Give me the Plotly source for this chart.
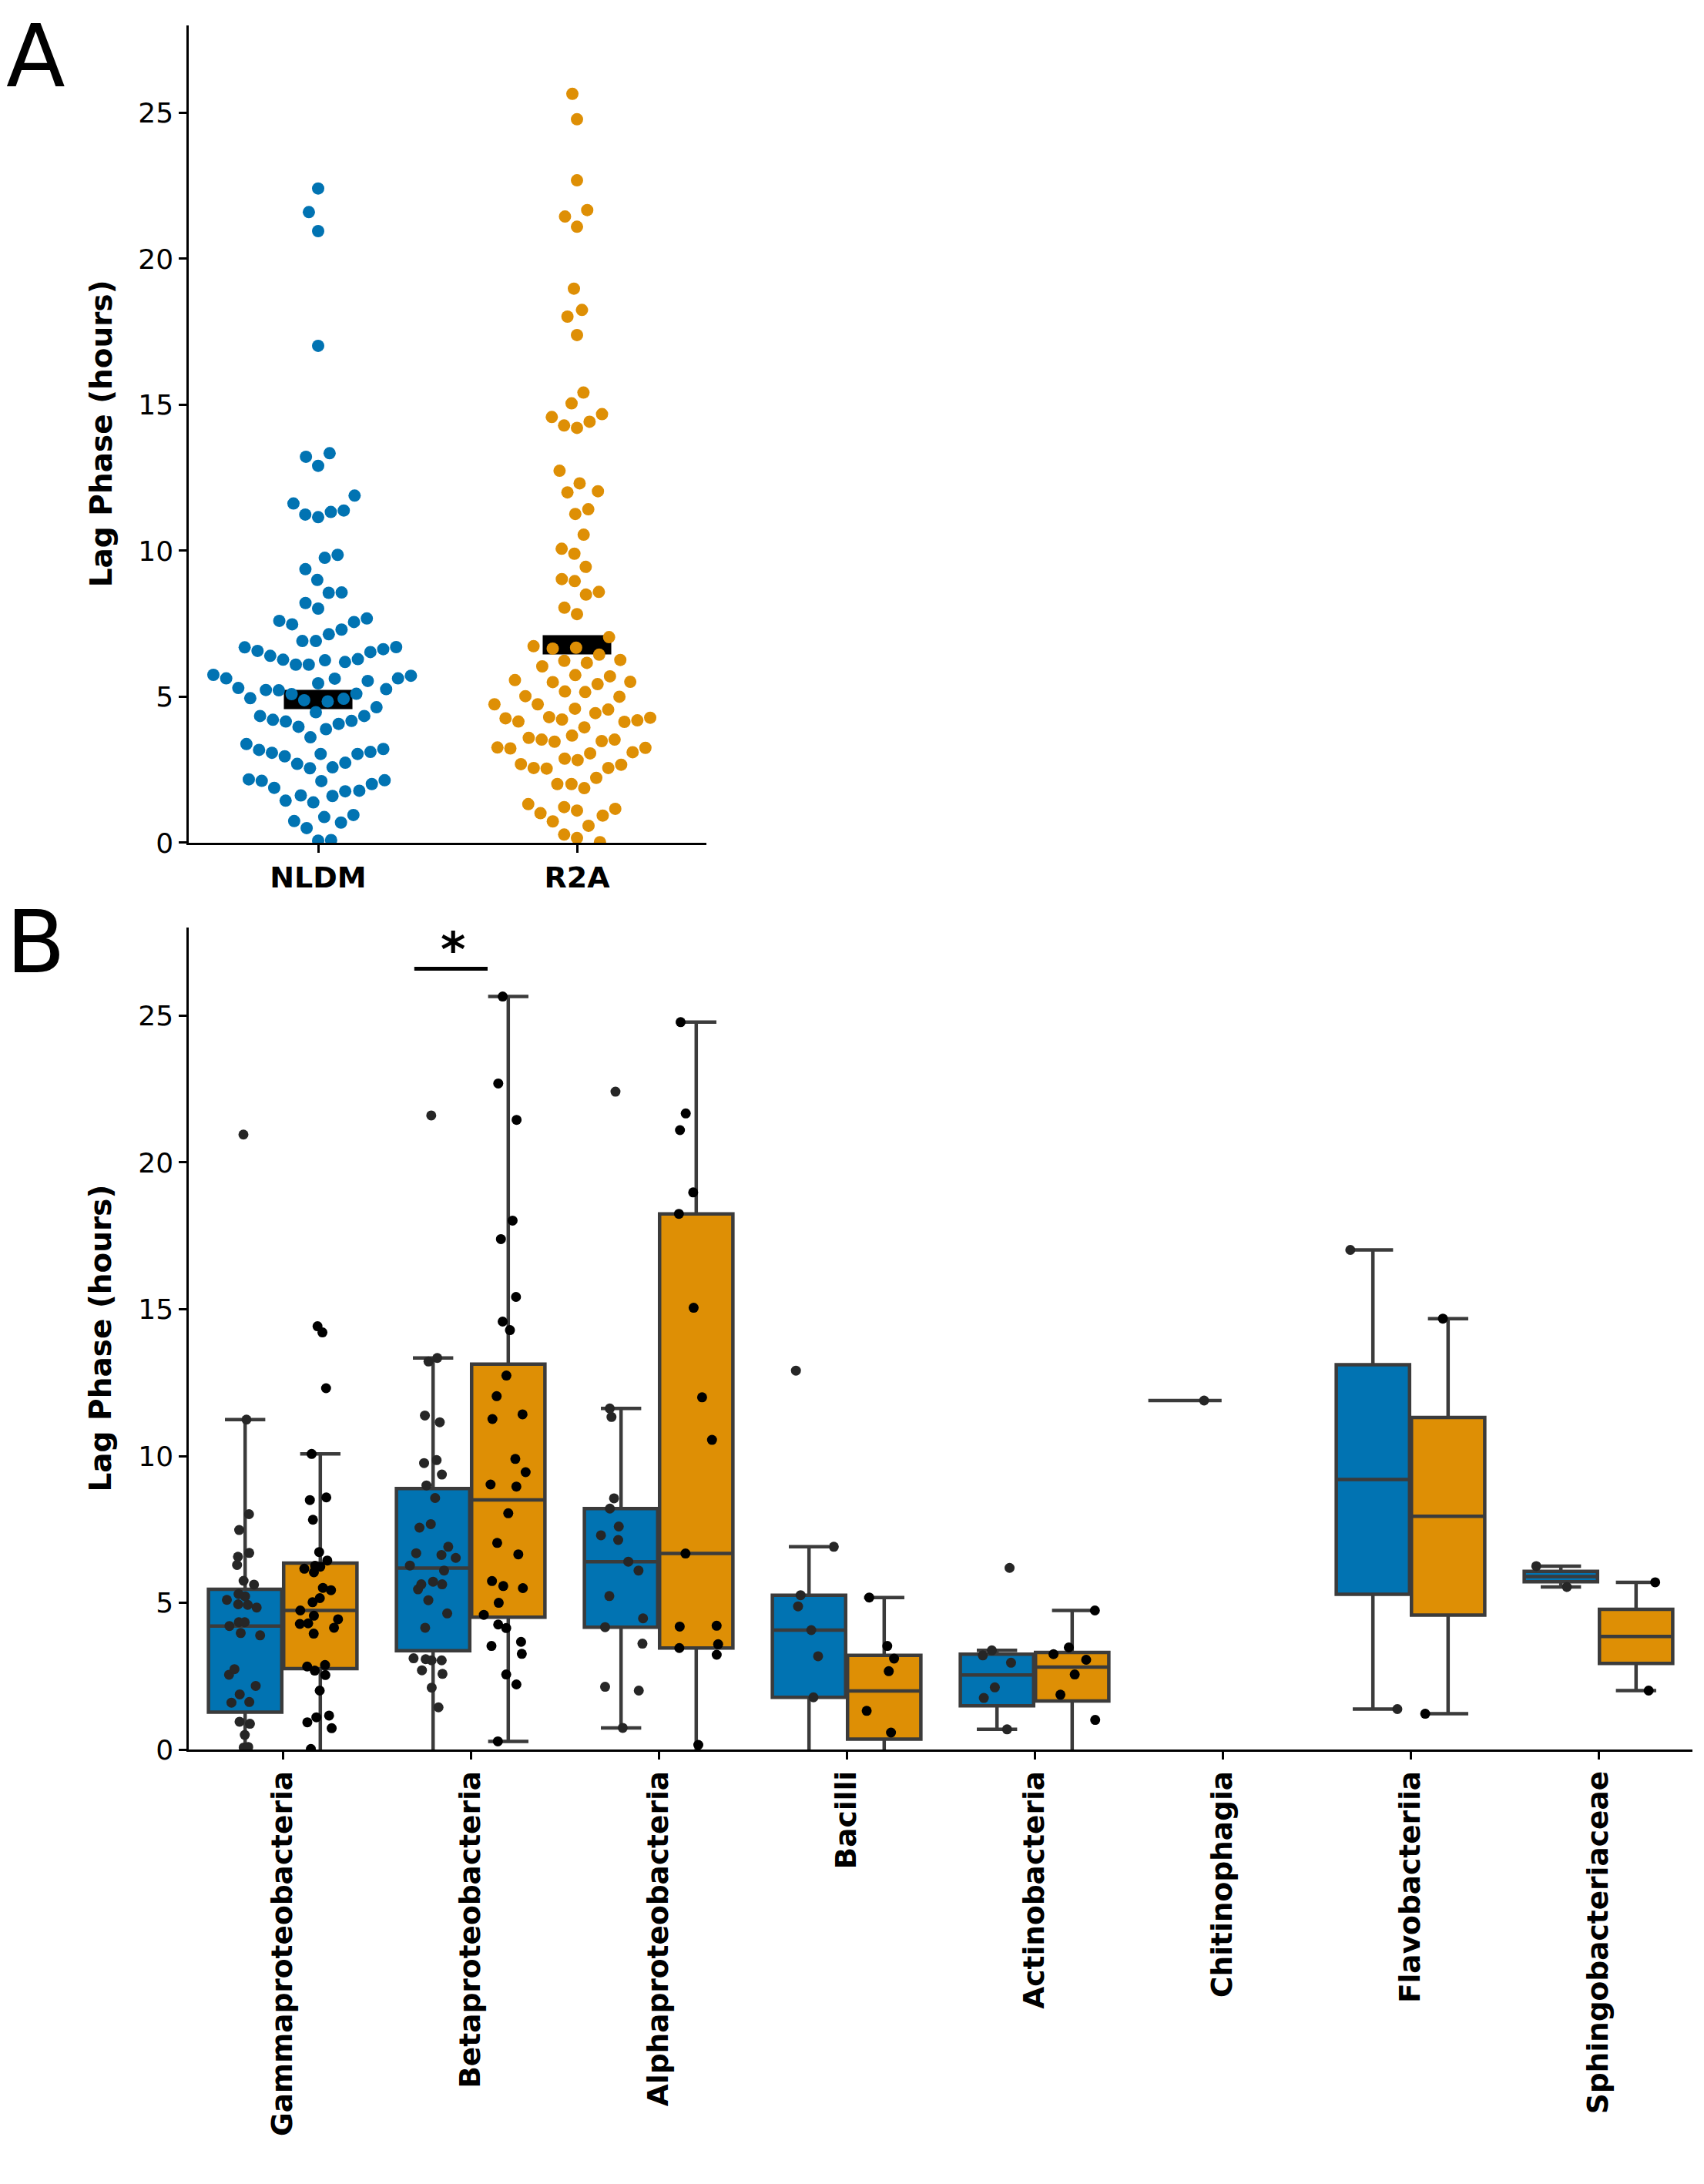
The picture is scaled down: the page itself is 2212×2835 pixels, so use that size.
import numpy as np
import plotly.graph_objects as go

# ---------------- data ----------------
classes = ["Gammaproteobacteria", "Betaproteobacteria", "Alphaproteobacteria", "Bacilli",
           "Actinobacteria", "Chitinophagia", "Flavobacteriia", "Sphingobacteriaceae"]
media = ["NLDM", "R2A"]

gamma_nldm = [20.95, 11.24, 8.02, 7.48, 6.70, 6.57, 6.29, 5.75, 5.62, 5.30, 5.22, 5.10, 4.95, 4.93,
              4.84, 4.34, 4.34, 4.21, 3.97, 3.89, 2.74, 2.55, 2.17, 1.88, 1.62, 1.60, 0.95, 0.88,
              0.50, 0.09, 0.07, -0.5, -1.2, -10.0, -25.0]
beta_nldm = [21.6, 13.34, 13.22, 11.38, 11.15, 9.86, 9.76, 9.37, 9.00, 8.57, 7.68, 7.56, 6.91, 6.69,
             6.63, 6.53, 6.27, 6.10, 5.72, 5.63, 5.63, 5.46, 5.09, 4.64, 4.15, 3.11, 3.08, 3.04,
             3.04, 2.70, 2.58, 2.11, 1.44, -2.0]
alpha_nldm = [22.41, 11.62, 11.33, 8.56, 8.21, 7.60, 7.30, 7.14, 6.40, 6.10, 5.23, 4.47, 4.17, 3.61,
              2.14, 2.01, 0.74]
bacilli_nldm = [12.91, 6.91, 5.26, 4.88, 4.07, 3.18, 1.78, -1.0, -15.0]
actino_nldm = [6.19, 3.38, 3.21, 2.96, 2.12, 1.76, 0.69, -10.0]
chitino_nldm = [11.89]
flavo_nldm = [17.02, 1.38]
sphingo_nldm = [6.25, 5.54]

gamma_r2a = [14.42, 14.21, 12.31, 10.07, 8.59, 8.50, 7.83, 6.73, 6.44, 6.26, 6.23, 6.16, 6.04, 5.51,
             5.43, 5.16, 5.02, 4.74, 4.56, 4.44, 4.30, 4.28, 4.15, 3.95, 2.88, 2.83, 2.69, 2.54,
             2.01, 1.16, 1.10, 0.93, 0.73, 0.02, -0.8]
beta_r2a = [25.65, 22.69, 21.45, 18.02, 17.39, 15.42, 14.58, 14.29, 12.74, 12.04, 11.42, 11.26, 9.90,
            9.45, 9.03, 8.96, 8.05, 7.04, 6.65, 5.74, 5.57, 5.50, 5.00, 4.59, 4.26, 4.14, 3.67, 3.53,
            3.26, 2.56, 2.22, 0.28]
alpha_r2a = [24.78, 21.67, 21.10, 18.98, 18.25, 15.05, 12.00, 10.55, 6.68, 4.22, 4.19, 3.59, 3.46,
             3.23, 0.16, -0.7, -4.0]
bacilli_r2a = [5.18, 3.53, 3.10, 2.67, 1.32, 0.58, -0.3, -5.0]
actino_r2a = [4.74, 3.48, 3.25, 3.06, 2.56, 1.87, 1.01, -0.5]
chitino_r2a = []
flavo_r2a = [14.68, 1.22]
sphingo_r2a = [5.70, 2.01]

nldm_by_class = [gamma_nldm, beta_nldm, alpha_nldm, bacilli_nldm, actino_nldm, chitino_nldm,
                 flavo_nldm, sphingo_nldm]
r2a_by_class = [gamma_r2a, beta_r2a, alpha_r2a, bacilli_r2a, actino_r2a, chitino_r2a,
                flavo_r2a, sphingo_r2a]

# ---------------- styles ----------------
W, H = 2212, 2835
BLUE, ORANGE = "#0173b2", "#de8f05"
EDGE = "#3b3b3b"
FONT = "DejaVu Sans"

# panel geometry (pixels)
SHIFT = -3
A_L, A_R, A_T, A_B = 240 + SHIFT, 912 + SHIFT, 25, 1094
B_L, B_R, B_T, B_B = 240 + SHIFT, 2189, 1205, 2280
YMAX = 28

fig = go.Figure()

# ---------------- Panel A: swarm ----------------
px_per_x = (A_R - A_L) / 2.0
px_per_y = (A_B - A_T) / YMAX
SWARM_Y_SCALE = 0.45   # swarm laid out on a vertically compressed scale, as in the original
DOT = 16.0


def beeswarm(values, r):
    vals = np.asarray(values, float)
    order = np.argsort(vals, kind="mergesort")
    ys = vals[order] * px_per_y * SWARM_Y_SCALE
    placed = []
    for y in ys:
        neigh = [p for p in placed if abs(y - p[1]) < 2 * r]
        cands = [(0.0, y)]
        left = True
        for (xj, yj) in reversed(neigh):
            dy = y - yj
            dx = np.sqrt(max((2 * r) ** 2 - dy ** 2, 0)) * 1.05
            pair = [(xj - dx, y), (xj + dx, y)]
            cands.extend(pair if left else pair[::-1])
            left = not left
        cands.sort(key=lambda c: abs(c[0]))
        chosen = cands[0]
        for c in cands:
            if all((c[0] - xj) ** 2 + (c[1] - yj) ** 2 >= (2 * r) ** 2 * 0.999 for xj, yj in neigh):
                chosen = c
                break
        placed.append(chosen)
    xs = np.array([p[0] for p in placed]) / px_per_x
    return xs, vals[order]


for i, (groups, col) in enumerate([(nldm_by_class, BLUE), (r2a_by_class, ORANGE)]):
    allv = np.concatenate([np.asarray(g, float) for g in groups if len(g)])
    m = float(np.mean(allv))
    fig.add_trace(go.Scatter(x=[i - 0.1325, i + 0.1325], y=[m, m], mode="lines",
                             line=dict(color="black", width=25), xaxis="x", yaxis="y",
                             hoverinfo="skip"))
    xo, yv = beeswarm(allv, DOT / 2)
    fig.add_trace(go.Scatter(x=i + xo, y=yv, mode="markers",
                             marker=dict(color=col, size=DOT, line=dict(width=0)),
                             xaxis="x", yaxis="y", cliponaxis=True))

# ---------------- Panel B: boxes ----------------
OFF = 0.2


def stats(a):
    a = np.asarray(a, float)
    q1, med, q3 = np.percentile(a, [25, 50, 75])
    iqr = q3 - q1
    lo = a[a >= q1 - 1.5 * iqr].min()
    hi = a[a <= q3 + 1.5 * iqr].max()
    return q1, med, q3, lo, hi


for groups, sgn, col, ptcol in [(nldm_by_class, -1, BLUE, "#262626"), (r2a_by_class, 1, ORANGE, "#000000")]:
    pos, Q1, MED, Q3, LO, HI = [], [], [], [], [], []
    px_, py_ = [], []
    for ci, g in enumerate(groups):
        if len(g) == 0:
            continue
        q1, med, q3, lo, hi = stats(g)
        p = ci + sgn * OFF
        pos.append(p); Q1.append(q1); MED.append(med); Q3.append(q3); LO.append(lo); HI.append(hi)
        px_ += [p] * len(g)
        py_ += list(g)
    fig.add_trace(go.Box(x=pos, q1=Q1, median=MED, q3=Q3, lowerfence=LO, upperfence=HI,
                         width=0.39, fillcolor=col, line=dict(color=EDGE, width=4.5),
                         whiskerwidth=0.55, boxpoints=False, xaxis="x2", yaxis="y2",
                         hoverinfo="skip"))
    fig.add_trace(go.Box(x=px_, y=py_, width=0.39, boxpoints="all", jitter=0.7, pointpos=0,
                         fillcolor="rgba(0,0,0,0)", line=dict(width=0, color="rgba(0,0,0,0)"),
                         marker=dict(color=ptcol, size=13), xaxis="x2", yaxis="y2",
                         hoverinfo="skip"))

# significance marker
fig.add_shape(type="line", xref="x2", yref="y2", x0=0.70, x1=1.09, y0=26.6, y1=26.6,
              line=dict(color="black", width=5))
fig.add_annotation(xref="x2", yref="y2", x=0.905, y=27.25, text="*", showarrow=False,
                   xanchor="center", yanchor="middle",
                   font=dict(family=FONT, size=62, color="black", weight="bold"))

axis_common = dict(showline=True, linecolor="black", linewidth=2.5, ticks="outside", ticklen=10,
                   tickwidth=2.5, tickcolor="black", showgrid=False, zeroline=False)

fig.update_layout(
    width=W, height=H, margin=dict(l=0, r=0, t=0, b=0),
    plot_bgcolor="white", paper_bgcolor="white", showlegend=False,
    font=dict(family=FONT, color="black"),
    xaxis=dict(domain=[A_L / W, A_R / W], range=[-0.5, 1.5], tickvals=[0, 1], ticktext=media,
               tickfont=dict(size=38, weight="bold"), anchor="y", **axis_common),
    yaxis=dict(domain=[1 - A_B / H, 1 - A_T / H], range=[0, YMAX], tickvals=[0, 5, 10, 15, 20, 25],
               tickfont=dict(size=36), anchor="x", **axis_common),
    xaxis2=dict(domain=[B_L / W, B_R / W], range=[-0.5, 7.5], tickvals=list(range(8)),
                ticktext=classes, tickangle=-90, tickfont=dict(size=37.5, weight="bold"),
                anchor="y2", **axis_common),
    yaxis2=dict(domain=[1 - B_B / H, 1 - B_T / H], range=[0, YMAX], tickvals=[0, 5, 10, 15, 20, 25],
                tickfont=dict(size=36), anchor="x2", **axis_common),
)

# y titles
for yc in [(A_T + A_B) / 2, (B_T + B_B) / 2]:
    fig.add_annotation(xref="paper", yref="paper", x=123 / W, y=1 - yc / H, text="Lag Phase (hours)",
                       textangle=-90, showarrow=False, xanchor="center", yanchor="middle",
                       font=dict(family=FONT, size=39, color="black", weight="bold"))

# panel letters
fig.add_annotation(xref="paper", yref="paper", x=0, y=1, text="A", showarrow=False,
                   xanchor="left", yanchor="top", borderpad=0, borderwidth=0,
                   font=dict(family=FONT, size=112, color="black"))
fig.add_annotation(xref="paper", yref="paper", x=0, y=1 - 1224 / H, text="B", showarrow=False,
                   xanchor="left", yanchor="middle", borderpad=0, borderwidth=0,
                   font=dict(family=FONT, size=112, color="black"))

fig.write_html("out.html")
